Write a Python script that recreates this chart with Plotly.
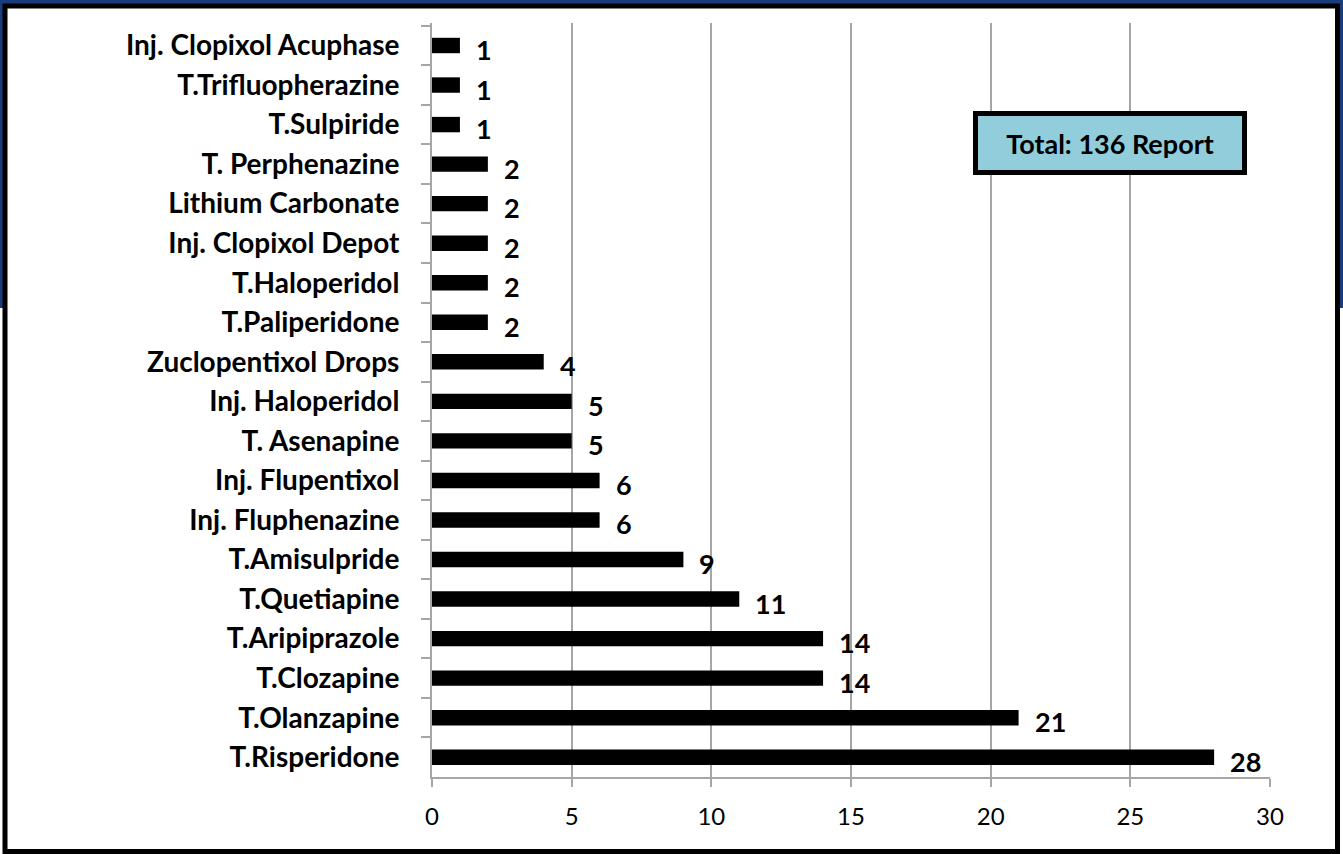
import plotly.graph_objects as go

# Datos (de arriba hacia abajo, como en la figura)
farmacos = [
    "Inj. Clopixol Acuphase", "T.Trifluopherazine", "T.Sulpiride",
    "T. Perphenazine", "Lithium Carbonate", "Inj. Clopixol Depot",
    "T.Haloperidol", "T.Paliperidone", "Zuclopentixol Drops",
    "Inj. Haloperidol", "T. Asenapine", "Inj. Flupentixol",
    "Inj. Fluphenazine", "T.Amisulpride", "T.Quetiapine",
    "T.Aripiprazole", "T.Clozapine", "T.Olanzapine", "T.Risperidone",
]
reportes = [1, 1, 1, 2, 2, 2, 2, 2, 4, 5, 5, 6, 6, 9, 11, 14, 14, 21, 28]
x_ticks = [0, 5, 10, 15, 20, 25, 30]
total_texto = "Total: 136 Report"

FONT = "Lato"
W, H = 1343, 854
L, R, T, B = 432, 1270, 23, 777   # área de trazado en píxeles
PW, PH = R - L, B - T


def px_x(v):
    return (v - L) / PW


def px_y(v):
    return (B - v) / PH


fig = go.Figure()
fig.add_trace(go.Bar(
    x=reportes, y=farmacos, orientation="h",
    marker=dict(color="black", line=dict(width=0)),
    width=0.39, hoverinfo="x+y",
))

# etiquetas de valor
for f, v in zip(farmacos, reportes):
    fig.add_annotation(
        x=v, y=f, text=f"<b>{v}</b>", showarrow=False,
        xanchor="left", yanchor="middle", xshift=14, yshift=-4,
        font=dict(family=FONT, size=27, color="black"),
    )

# caja del total
fig.add_annotation(
    xref="paper", yref="paper", x=px_x(1109.5), y=px_y(143),
    text=f"<b>{total_texto}</b>", showarrow=False,
    font=dict(family=FONT, size=27, color="black"),
    bgcolor="#92CDDC", bordercolor="black", borderwidth=5,
    width=262, height=52, xanchor="center", yanchor="middle",
)

# fondo: franja azul arriba y marco blanco con borde negro
fig.add_shape(type="rect", xref="paper", yref="paper", layer="below",
              x0=px_x(0), x1=px_x(W), y0=px_y(308), y1=px_y(0),
              fillcolor="#1b3c7c", line=dict(width=0))
fig.add_shape(type="rect", xref="paper", yref="paper", layer="below",
              x0=px_x(5), x1=px_x(1337.5), y0=px_y(851.5), y1=px_y(6),
              fillcolor="white", line=dict(color="black", width=5))

fig.update_layout(
    width=W, height=H,
    margin=dict(l=L, r=W - R, t=T, b=H - B),
    paper_bgcolor="white", plot_bgcolor="rgba(0,0,0,0)",
    showlegend=False,
    font=dict(family=FONT, color="black"),
)
fig.update_xaxes(
    range=[0, 30], tickvals=x_ticks, showgrid=True,
    gridcolor="#a6a6a6", gridwidth=2, zeroline=False,
    showline=True, linecolor="#a6a6a6", linewidth=2,
    ticks="outside", ticklen=8, tickcolor="#a6a6a6", tickwidth=2,
    tickfont=dict(family=FONT, size=24, color="black"),
    ticklabelstandoff=9, fixedrange=True,
)
fig.update_yaxes(
    autorange="reversed", showgrid=False, zeroline=False,
    showline=True, linecolor="#a6a6a6", linewidth=2,
    ticks="outside", ticklen=9, tickcolor="#a6a6a6", tickwidth=2,
    tickson="boundaries",
    tickfont=dict(family=FONT, size=28, color="black", weight="bold"),
    ticklabelstandoff=25, fixedrange=True,
)

fig.write_html("out.html", config={"displayModeBar": False},
               post_script="document.body.style.margin='0px';")
